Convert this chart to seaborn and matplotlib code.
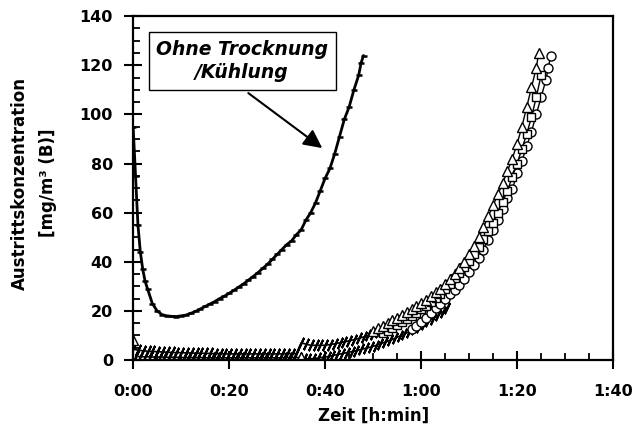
import matplotlib
matplotlib.use("Agg")
import matplotlib.pyplot as plt
from matplotlib.ticker import MultipleLocator, FixedLocator, FixedFormatter
import seaborn as sns

# --- data (time in minutes, concentration in mg/m3) ---
# curve "Ohne Trocknung / Kuehlung"
t_ohne = [0, 0.5, 1, 1.5, 2, 2.5, 3, 4, 5, 6, 7, 8, 9, 10, 11, 12, 13, 14, 15, 16,
          17, 18, 19, 20, 21, 22, 23, 24, 25, 26, 27, 28, 29, 30, 31, 32, 33, 34, 35,
          36, 37, 38, 39, 40, 41, 42, 43, 44, 45, 46, 47, 47.5, 48]
c_ohne = [95, 75, 55, 44, 37, 32, 29, 23, 20, 18.5, 18, 17.8, 17.7, 18, 18.3, 19, 19.8,
          20.8, 21.8, 22.8, 23.8, 25, 26, 27.2, 28.4, 29.7, 31, 32.5, 34, 35.6, 37.3, 39,
          41, 43, 45, 47, 48.5, 51, 53, 57, 60, 64, 69, 74, 78, 84, 91, 98, 103, 110, 116,
          121, 124]

# upper band of slashed markers
t_band1 = [0, 1, 2, 3, 4, 5, 6, 7, 8, 9, 10, 11, 12, 13, 14, 15, 16, 17, 18, 19, 20,
           21, 22, 23, 24, 25, 26, 27, 28, 29, 30, 31, 32, 33, 34,
           35, 36, 37, 38, 39, 40, 41, 42, 43, 44, 45, 46, 47, 48, 49, 50, 51, 52, 53,
           54, 55, 56, 57, 58, 59, 60, 61, 62, 63, 64, 65]
c_band1 = [4.5, 4, 3.8, 3.6, 3.5, 3.4, 3.3, 3.2, 3.1, 3.0, 3.0, 2.9, 2.9, 2.8, 2.8, 2.7,
           2.7, 2.6, 2.6, 2.5, 2.5, 2.5, 2.5, 2.5, 2.5, 2.5, 2.5, 2.5, 2.5, 2.5, 2.5, 2.5,
           2.6, 2.6, 2.6,
           7, 6.5, 6, 6, 6, 6, 6.3, 6.6, 7, 7.4, 7.8, 8.3, 8.8, 9.4, 10, 10.6, 11.3, 12,
           12.8, 13.6, 14.5, 15.5, 16.5, 17.5, 18.6, 19.8, 21, 22.3, 23.6, 25, 26.5]

# lower band of slashed markers
t_band2 = [0.5, 1.5, 2.5, 3.5, 4.5, 5.5, 6.5, 7.5, 8.5, 9.5, 10.5, 11.5, 12.5, 13.5,
           14.5, 15.5, 16.5, 17.5, 18.5, 19.5, 20.5, 21.5, 22.5, 23.5, 24.5, 25.5, 26.5,
           27.5, 28.5, 29.5, 30.5, 31.5, 32.5, 33.5, 34.5,
           35.5, 36.5, 37.5, 38.5, 39.5, 40.5, 41.5, 42.5, 43.5, 44.5, 45.5, 46.5, 47.5,
           48.5, 49.5, 50.5, 51.5, 52.5, 53.5, 54.5, 55.5, 56.5, 57.5, 58.5, 59.5, 60.5,
           61.5, 62.5, 63.5, 64.5, 65.5]
c_band2 = [1.5, 1.4, 1.3, 1.3, 1.2, 1.2, 1.2, 1.1, 1.1, 1.1, 1.0, 1.0, 1.0, 1.0, 1.0,
           0.9, 0.9, 0.9, 0.9, 0.9, 0.9, 0.9, 0.9, 0.9, 0.9, 0.9, 0.9, 0.9, 0.9, 0.9,
           0.9, 1.0, 1.0, 1.0, 1.0,
           0.5, 0.5, 0.6, 0.8, 1.1, 1.4, 1.8, 2.2, 2.6, 3.0, 3.4, 3.8, 4.3, 4.8, 5.3,
           5.9, 6.6, 7.3, 8.0, 8.8, 9.7, 10.6, 11.5, 12.5, 13.5, 14.6, 15.7, 16.9, 18.2,
           19.6, 21.1]

# open triangles
t_tri = [50, 51, 52, 53, 54, 55, 56, 57, 58, 59, 60, 61, 62, 63, 64, 65, 66, 67, 68,
         69, 70, 71, 72, 73, 74, 75, 76, 77, 78, 79, 80, 81, 82, 83, 84, 84.5]
c_tri = [12, 13, 14, 15, 16.2, 17.3, 18.5, 19.5, 20.8, 22, 23.3, 24.5, 26, 27.5, 29, 31,
         33, 35, 37.5, 40, 43, 46.5, 50, 54, 58.5, 63, 67.5, 72, 77, 82, 88, 95, 103,
         111, 119, 125]
t_tri_single = [0, 35]
c_tri_single = [8, 1.2]

# open squares
t_sq = [52, 53, 54, 55, 56, 57, 58, 59, 60, 61, 62, 63, 64, 65, 66, 67, 68, 69, 70,
        71, 72, 73, 74, 75, 76, 77, 78, 79, 80, 81, 82, 83, 84, 85]
c_sq = [11, 12, 13, 14.2, 15.5, 16.8, 18, 19.3, 20.7, 22, 23.5, 25.2, 27, 29, 31, 33.2,
        35.5, 38, 40.5, 43.2, 46, 49.2, 52.5, 56, 60, 64.5, 69, 74.5, 80, 86, 92, 99,
        107, 116]

# open circles
t_circ = [58, 59, 60, 61, 62, 63, 64, 65, 66, 67, 68, 69, 70, 71, 72, 73, 74, 75, 76,
          77, 78, 79, 80, 81, 82, 83, 84, 85, 86, 86.5, 87]
c_circ = [12.5, 14, 15.5, 17, 19, 21, 23, 25, 27, 28.5, 30.5, 33, 36, 38.5, 41.5, 45,
          49, 53, 57, 61.5, 66, 69.5, 76, 81, 87, 93, 100, 107, 114, 119, 124]

x_tick_pos = [0, 20, 40, 60, 80, 100]
x_tick_labels = ["0:00", "0:20", "0:40", "1:00", "1:20", "1:40"]

sns.set_style("ticks")
plt.rcParams['font.family'] = ['DejaVu Sans']
plt.rcParams['font.weight'] = 'bold'
plt.rcParams['text.color'] = 'black'
plt.rcParams['axes.labelcolor'] = 'black'
plt.rcParams['xtick.color'] = 'black'
plt.rcParams['ytick.color'] = 'black'

fig, ax = plt.subplots(figsize=(6.34, 4.38), dpi=100)
fig.subplots_adjust(left=0.21, right=0.967, bottom=0.178, top=0.963)

slash = (2, 2, -25)
sns.lineplot(x=t_band2, y=c_band2, ax=ax, color='black', lw=1.2, marker=slash, ms=9,
             mec='black', mew=1.5, estimator=None, sort=False)
sns.lineplot(x=t_band1, y=c_band1, ax=ax, color='black', lw=1.2, marker=slash, ms=9,
             mec='black', mew=1.5, estimator=None, sort=False)
sns.lineplot(x=t_circ, y=c_circ, ax=ax, color='black', lw=1, marker='o', ms=6.5,
             mfc='white', mec='black', mew=1, estimator=None, sort=False)
sns.lineplot(x=t_sq, y=c_sq, ax=ax, color='black', lw=1, marker='s', ms=5.5,
             mfc='white', mec='black', mew=1, estimator=None, sort=False)
sns.lineplot(x=t_tri, y=c_tri, ax=ax, color='black', lw=1, marker='^', ms=7,
             mfc='white', mec='black', mew=1, estimator=None, sort=False)
ax.plot(t_tri_single, c_tri_single, ls='none', marker='^', ms=7,
        mfc='white', mec='black', mew=1)
sns.lineplot(x=t_ohne, y=c_ohne, ax=ax, color='black', lw=2, marker='_', ms=5,
             mec='black', mew=1.8, estimator=None, sort=False)

ax.set_xlim(0, 100)
ax.set_ylim(0, 140)
ax.xaxis.set_major_locator(FixedLocator(x_tick_pos))
ax.xaxis.set_major_formatter(FixedFormatter(x_tick_labels))
ax.xaxis.set_minor_locator(MultipleLocator(5))
ax.yaxis.set_major_locator(MultipleLocator(20))
ax.yaxis.set_minor_locator(MultipleLocator(5))

ax.tick_params(which='major', direction='inout', length=13, width=1.5,
               labelsize=11.5, color='black', labelcolor='black')
ax.tick_params(axis='x', which='major', pad=11)
ax.tick_params(axis='y', which='major', pad=8)
ax.tick_params(which='minor', direction='in', length=5, width=1.3, color='black')
for lab in ax.get_xticklabels() + ax.get_yticklabels():
    lab.set_fontweight('bold')

for sp in ax.spines.values():
    sp.set_visible(True)
    sp.set_linewidth(1.6)
    sp.set_color('black')

ax.set_xlabel("Zeit [h:min]", fontsize=12, fontweight='bold', labelpad=5, color='black')
fig.text(34 / 634, 1 - 183 / 438, "Austrittskonzentration\n[mg/m³ (B)]",
         rotation=90, ha='center', va='center', fontsize=12, fontweight='bold',
         linespacing=1.75, color='black')

ax.text(22.7, 121.7, "Ohne Trocknung\n/Kühlung", ha='center', va='center',
        fontsize=13.5, fontweight='bold', fontstyle='italic', linespacing=1.3,
        color='black',
        bbox=dict(boxstyle='square,pad=0.4', fc='white', ec='black', lw=1))
ax.annotate("", xy=(39.4, 86.3), xytext=(24, 108.7),
            arrowprops=dict(arrowstyle='-|>', mutation_scale=28, lw=1.5,
                            color='black', shrinkA=0, shrinkB=0))

fig.savefig("out.png", dpi=100)
